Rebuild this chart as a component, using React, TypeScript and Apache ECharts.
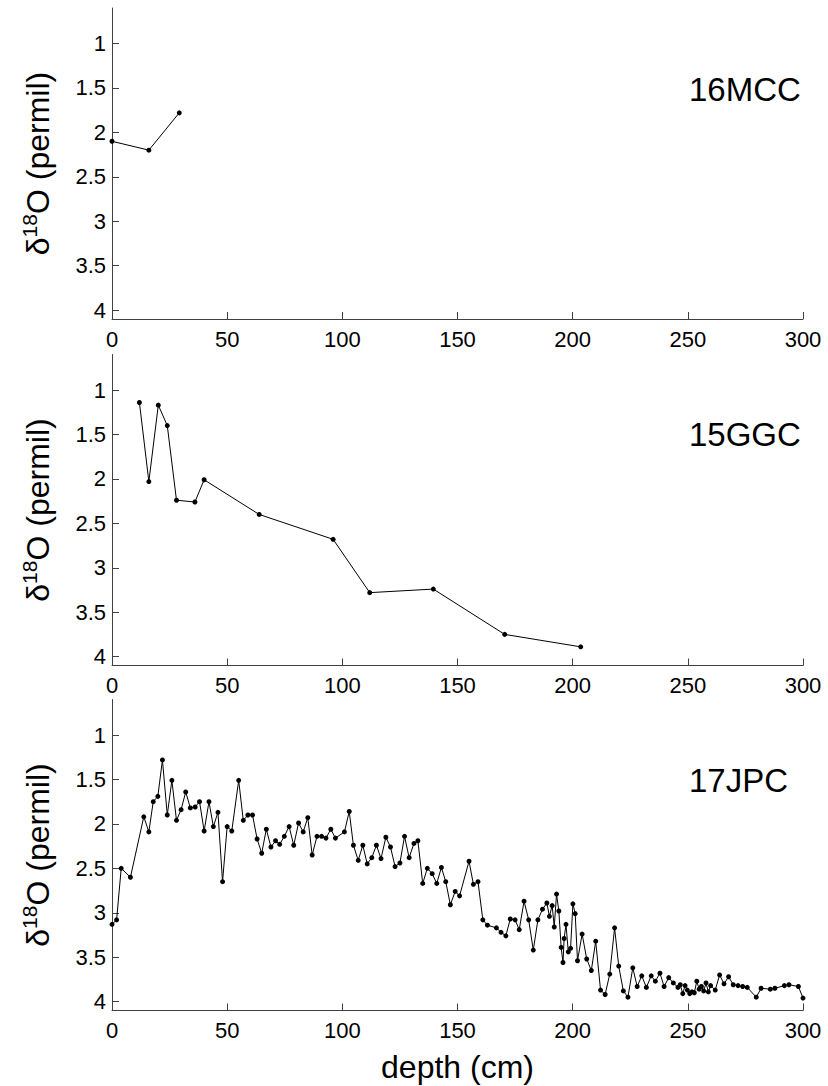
import React, { useEffect, useRef } from 'react';
import * as echarts from 'echarts';

const FONT = '"Liberation Sans", Arial, Helvetica, sans-serif';

// 16MCC
const mccDepth = [0, 16, 29.2];
const mccD18O = [2.1, 2.2, 1.78];

// 15GGC
const ggcDepth = [11.9, 16.0, 20.1, 24.0, 28.0, 36.0, 40.0, 63.9, 96.0, 111.9, 139.5, 170.5, 203.5];
const ggcD18O = [1.14, 2.03, 1.17, 1.40, 2.24, 2.26, 2.01, 2.40, 2.68, 3.28, 3.24, 3.75, 3.89];

// 17JPC
const jpcDepth = [
  0, 2, 4, 8, 13.8, 16.0, 17.9, 19.9, 21.9, 24.0, 26.0, 28.0, 30.0, 32.0, 34.0, 36.1, 38.0, 40.0, 42.1, 44.0, 46.0,
  48.0, 50.0, 52.0, 55.0, 57.0, 59.0, 61.0, 63.0, 65.0, 67.0, 69.0, 71.0, 72.8, 74.8, 76.9, 78.9, 81.0, 83.0, 85.0, 86.9, 89.0, 91.0, 92.9,
  95.0, 97.0, 100.9, 103.0, 104.8, 106.9, 108.9, 110.8, 112.8, 114.8, 116.8, 118.9, 120.9, 122.9, 125.0, 127.0, 129.0, 131.1, 132.8, 134.9, 136.9, 139.0, 141.0,
  143.0, 144.9, 146.9, 149.0, 150.9, 155.0, 156.9, 158.9, 161.0, 163.0, 166.9, 168.9, 171.0, 172.9, 175.0, 176.8, 178.9, 180.9, 182.9, 184.9, 186.9, 188.8,
  189.9, 191.1, 192.0, 193.0, 194.0, 195.0, 195.8, 196.3, 197.1, 198.1, 199.1, 200.1, 201.1, 202.1, 204.1, 206.1, 208.1, 210.0, 212.1, 214.1, 216.1, 218.2,
  220.0, 222.0, 224.0, 226.1, 228.0, 230.0, 232.0, 234.1, 235.9, 237.9,
  239.7, 241.7, 243.7, 245.7, 246.7, 247.8, 248.8, 249.8, 250.8, 251.8, 252.8, 253.9, 254.9, 255.9, 256.9, 257.9, 258.9, 259.9, 261.9,
  263.8, 265.7, 267.7, 269.7, 271.8, 273.8, 275.8, 279.7, 281.8, 285.8, 287.8, 291.9, 293.9, 298.0, 300.0,
];
const jpcD18O = [
  3.13, 3.08, 2.50, 2.60, 1.92, 2.09, 1.75, 1.69, 1.28, 1.90, 1.51, 1.96, 1.84, 1.64, 1.82, 1.81, 1.75, 2.08, 1.75, 2.03, 1.87,
  2.65, 2.03, 2.08, 1.51, 1.96, 1.90, 1.90, 2.17, 2.33, 2.06, 2.26, 2.19, 2.23, 2.14, 2.03, 2.24, 1.99, 2.09, 1.93, 2.35, 2.14, 2.14, 2.16,
  2.06, 2.16, 2.09, 1.86, 2.24, 2.41, 2.24, 2.45, 2.38, 2.24, 2.39, 2.15, 2.26, 2.48, 2.44, 2.14, 2.38, 2.22, 2.19, 2.67, 2.50, 2.56, 2.67,
  2.49, 2.65, 2.91, 2.76, 2.81, 2.42, 2.68, 2.65, 3.08, 3.14, 3.17, 3.22, 3.26, 3.07, 3.08, 3.19, 2.87, 3.08, 3.42, 3.08, 2.96, 2.89,
  3.04, 2.92, 3.16, 2.79, 2.98, 3.39, 3.56, 3.29, 3.13, 3.44, 3.40, 2.90, 3.01, 3.54, 3.24, 3.52, 3.65, 3.32, 3.87, 3.92, 3.69, 3.17,
  3.60, 3.88, 3.95, 3.62, 3.83, 3.71, 3.84, 3.71, 3.77, 3.68,
  3.83, 3.73, 3.79, 3.84, 3.81, 3.91, 3.82, 3.87, 3.91, 3.89, 3.90, 3.77, 3.86, 3.83, 3.88, 3.79, 3.89, 3.82, 3.87,
  3.70, 3.80, 3.72, 3.81, 3.82, 3.83, 3.84, 3.95, 3.85, 3.86, 3.85, 3.82, 3.81, 3.83, 3.96,
];

const coreNames = ['16MCC', '15GGC', '17JPC'];
const yTicks = [1, 1.5, 2, 2.5, 3, 3.5, 4];

const zip = (xs: number[], ys: number[]) => xs.map((x, i) => [x, ys[i]]);

const gridTops = [8, 354.5, 699.5];
const gridH = 311;
const titleY = [89, 434.5, 780];

export default function App() {
  const ref = useRef<HTMLDivElement>(null);
  useEffect(() => {
    const chart = echarts.init(ref.current!, null, { renderer: 'svg' });
    const datasets = [zip(mccDepth, mccD18O), zip(ggcDepth, ggcD18O), zip(jpcDepth, jpcD18O)];
    const axisColor = '#404040';
    const option: any = {
      animation: false,
      backgroundColor: '#fff',
      grid: gridTops.map((t) => ({ left: 112, top: t, width: 691, height: gridH, containLabel: false })),
      xAxis: gridTops.map((_, i) => ({
        type: 'value',
        gridIndex: i,
        min: 0,
        max: 300,
        interval: 50,
        position: 'bottom',
        axisLine: { show: true, onZero: false, lineStyle: { color: axisColor, width: 1 } },
        axisTick: { show: true, inside: true, length: 7, lineStyle: { color: axisColor } },
        axisLabel: { color: '#000', fontSize: 22, fontFamily: FONT, margin: 9 },
        splitLine: { show: false },
        name: i === 2 ? 'depth (cm)' : '',
        nameLocation: 'middle',
        nameGap: 40,
        nameTextStyle: { color: '#000', fontSize: 32, fontFamily: FONT },
      })),
      yAxis: gridTops.map((_, i) => ({
        type: 'value',
        gridIndex: i,
        inverse: true,
        min: 0.6,
        max: 4.1,
        axisLine: { show: true, lineStyle: { color: axisColor, width: 1 } },
        axisTick: { show: true, inside: true, length: 7, customValues: yTicks, lineStyle: { color: axisColor } },
        axisLabel: { color: '#000', fontSize: 22, fontFamily: FONT, margin: 6, customValues: yTicks },
        splitLine: { show: false },
        name: '{a|δ}{s|18}{a|O (permil)}',
        nameLocation: 'middle',
        nameRotate: 90,
        nameGap: 55,
        nameTextStyle: {
          color: '#000',
          fontSize: 32,
          fontFamily: FONT,
          rich: {
            a: { fontSize: 32, fontFamily: FONT, color: '#000', lineHeight: 38 },
            s: { fontSize: 21, fontFamily: FONT, color: '#000', verticalAlign: 'top', lineHeight: 38 },
          },
        },
      })),
      series: datasets.map((d, i) => ({
        type: 'line',
        xAxisIndex: i,
        yAxisIndex: i,
        data: d,
        symbol: 'circle',
        symbolSize: 5,
        showSymbol: true,
        lineStyle: { color: '#000', width: 1 },
        itemStyle: { color: '#000' },
        clip: false,
      })),
      graphic: coreNames.map((n, i) => ({
        type: 'text',
        x: 689,
        y: titleY[i],
        style: {
          text: n,
          fontSize: 33,
          fontFamily: FONT,
          fill: '#000',
          align: 'left',
          verticalAlign: 'middle',
        },
      })),
    };
    chart.setOption(option);
    return () => chart.dispose();
  }, []);
  return (
    <div
      ref={ref}
      style={{ position: 'absolute', left: 0, top: 0, width: 828, height: 1086, background: '#fff' }}
    />
  );
}
